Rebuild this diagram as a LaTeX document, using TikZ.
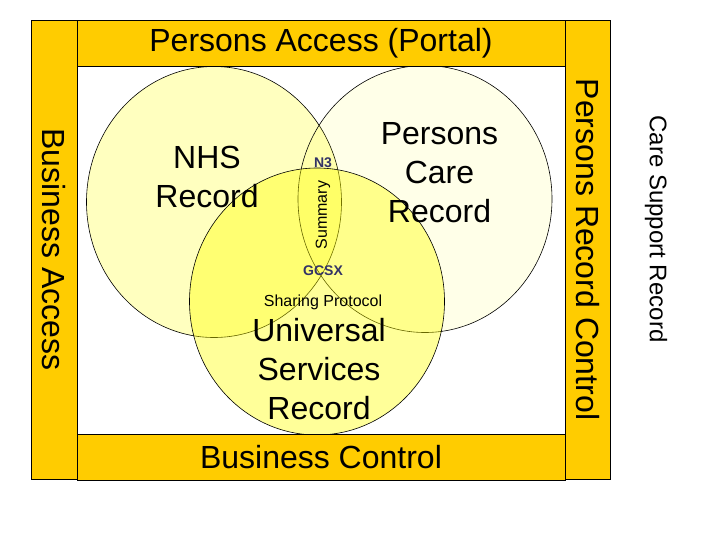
\documentclass[tikz,border=0pt]{standalone}
\usepackage{fontspec}
\setmainfont{Liberation Sans}
\usepackage{tikz}
\usetikzlibrary{positioning}
\usepackage{xcolor}
\definecolor{Gold}{HTML}{FFCC00}
\definecolor{Lemon}{HTML}{FFFF00}
\definecolor{Ink}{HTML}{333366}

\begin{document}
\begin{tikzpicture}[x=0.75pt,y=-0.75pt,
    bar/.style={draw=black,line width=0.75pt,fill=Gold,inner sep=0pt,
                font=\fontsize{24}{29}\selectfont},
    ring/.style={draw=black,line width=0.45pt,fill=Lemon},
    big/.style={align=center,font=\fontsize{24}{29.25}\selectfont},
    tag/.style={font=\fontsize{10.5}{12}\selectfont\bfseries,text=Ink,anchor=base},
    small/.style={font=\fontsize{12}{14}\selectfont}]
  \useasboundingbox (0,0) rectangle (720,540);
  \fill[white] (0,0) rectangle (720,540);
  % the three records
  \draw[ring,fill opacity=0.25] (214,202) ellipse [x radius=127.5,y radius=135.5];
  \draw[ring,fill opacity=0.09] (425,199) ellipse [x radius=127,y radius=133.5];
  \draw[ring,fill opacity=0.40] (317,301.5) ellipse [x radius=127.5,y radius=133.5];
  \node[big] (nhs) at (207,176.5) {NHS\\Record};
  \node[big] (pcr) at (439.5,172.8) {Persons\\Care\\Record};
  \node[big] (usr) at (319,369.5) {Universal\\Services\\Record};
  % overlap labels
  \node[tag] (nthree) at (323,167) {N3};
  \node[small,rotate=90] (summary) at (323,215) {Summary};
  \node[tag] (gcsx) at (323,275) {GCSX};
  \node[small,anchor=base] (sharing) at (323,306) {Sharing Protocol};
  % frame bars
  \node[bar,rotate=-90,minimum width=344.25pt,minimum height=34.5pt]
    (access) at (54,249.5) {Business Access};
  \node[bar,minimum width=366pt,minimum height=34.5pt]
    (portal) at (321,43) {Persons Access (Portal)};
  \node[bar,rotate=-90,minimum width=344.25pt,minimum height=33.75pt]
    (recctrl) at (587.5,249.5) {Persons Record Control};
  \node[bar,minimum width=366pt,minimum height=34.5pt]
    (busctrl) at (321,457) {Business Control};
  \node[font=\fontsize{18}{22}\selectfont,rotate=-90] (care) at (656,229) {Care Support Record};
\end{tikzpicture}
\end{document}
